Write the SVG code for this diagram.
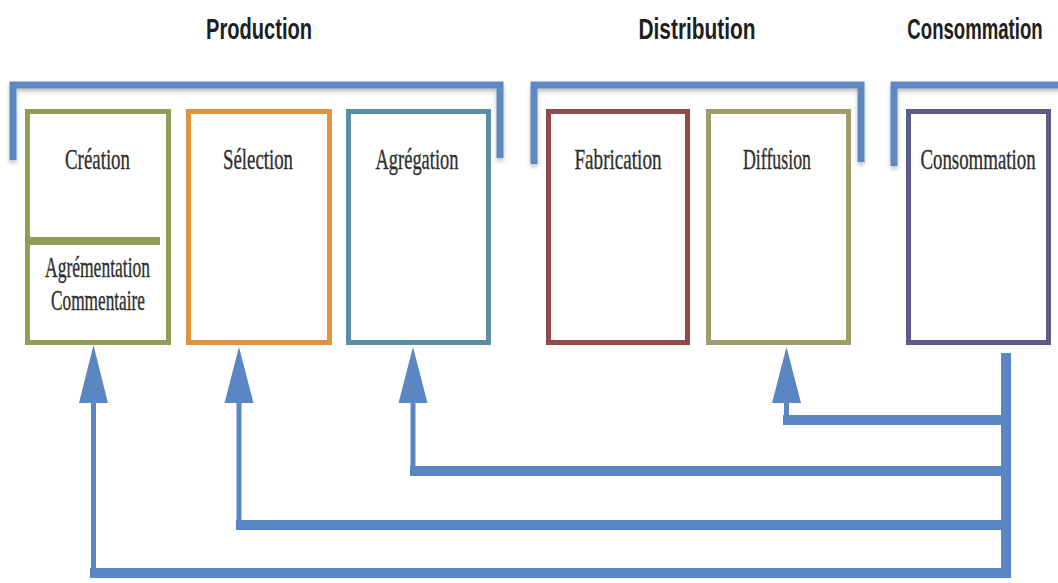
<svg xmlns="http://www.w3.org/2000/svg" width="1058" height="583" viewBox="0 0 1058 583">
  <defs>
    <style>
      .title { font-family: "Liberation Sans", Arial, sans-serif; font-weight: bold; font-size: 30px; fill: #1e1e1e; text-anchor: middle; }
      .label { font-family: "Liberation Serif", "DejaVu Serif", serif; font-size: 29px; fill: #2e2e2e; stroke: #2e2e2e; stroke-width: 0.35; text-anchor: middle; }
      .box { fill: #ffffff; stroke-width: 5; }
      .bracket { fill: none; stroke: #5f88c2; stroke-width: 7; stroke-linejoin: miter; }
      .shaft { fill: none; stroke: #5b86c4; stroke-width: 5; }
      .bar { fill: none; stroke: #5b86c4; stroke-width: 10; }
      .head { fill: #5b86c4; }
    </style>
    <filter id="sh" x="-5%" y="-5%" width="110%" height="130%">
      <feGaussianBlur in="SourceAlpha" stdDeviation="2"/>
      <feOffset dx="0" dy="3" result="b"/>
      <feComponentTransfer><feFuncA type="linear" slope="0.25"/></feComponentTransfer>
      <feMerge><feMergeNode/><feMergeNode in="SourceGraphic"/></feMerge>
    </filter>
  </defs>
  <rect width="1058" height="583" fill="#ffffff"/>

  <g id="titles">
    <text class="title" x="259" y="39" textLength="106" lengthAdjust="spacingAndGlyphs">Production</text>
    <text class="title" x="697" y="39" textLength="117" lengthAdjust="spacingAndGlyphs">Distribution</text>
    <text class="title" transform="translate(975,39) scale(0.62,1)" x="0" y="0">Consommation</text>
  </g>

  <g id="brackets" filter="url(#sh)">
    <path class="bracket" d="M13 160 V85 H500 V158"/>
    <path class="bracket" d="M534 164 V85 H861 V162"/>
    <path class="bracket" d="M894 166 V85 H1062"/>
  </g>

  <g id="node-creation">
    <rect class="box" x="27.5" y="111.5" width="141" height="231" stroke="#8f9d58"/>
    <line x1="26" y1="241" x2="160" y2="241" stroke="#8f9d58" stroke-width="8"/>
    <text class="label" x="97.5" y="169" textLength="65" lengthAdjust="spacingAndGlyphs">Création</text>
    <text class="label" x="97.5" y="277" font-size="26" textLength="105" lengthAdjust="spacingAndGlyphs">Agrémentation</text>
    <text class="label" x="98" y="310" font-size="26" textLength="94" lengthAdjust="spacingAndGlyphs">Commentaire</text>
  </g>
  <g id="node-selection">
    <rect class="box" x="188.5" y="111.5" width="141" height="231" stroke="#e0923c"/>
    <text class="label" x="258" y="169" textLength="70" lengthAdjust="spacingAndGlyphs">Sélection</text>
  </g>
  <g id="node-agregation">
    <rect class="box" x="348.5" y="111.5" width="140" height="231" stroke="#5a8ea6"/>
    <text class="label" x="417" y="169" textLength="83" lengthAdjust="spacingAndGlyphs">Agrégation</text>
  </g>
  <g id="node-fabrication">
    <rect class="box" x="548.5" y="111.5" width="139" height="231" stroke="#8f4b4b"/>
    <text class="label" x="618" y="169" textLength="87" lengthAdjust="spacingAndGlyphs">Fabrication</text>
  </g>
  <g id="node-diffusion">
    <rect class="box" x="708.5" y="111.5" width="140" height="231" stroke="#a19c6c"/>
    <text class="label" x="777" y="169" textLength="68" lengthAdjust="spacingAndGlyphs">Diffusion</text>
  </g>
  <g id="node-consommation">
    <rect class="box" x="908.5" y="111.5" width="140" height="231" stroke="#5f5b88"/>
    <text class="label" transform="translate(978,169) scale(0.65,1)" x="0" y="0">Consommation</text>
  </g>

  <g id="connectors">
    <path class="bar" d="M1006 353 V578"/>
    <path class="bar" d="M1006 420 H783"/>
    <path class="shaft" d="M786.5 425 V398"/>
    <polygon class="head" points="786.5,347 772,403 801,403"/>
    <path class="bar" d="M1006 471 H410"/>
    <path class="shaft" d="M413 476 V398"/>
    <polygon class="head" points="413,347 398.5,403 427.5,403"/>
    <path class="bar" d="M1006 525 H236"/>
    <path class="shaft" d="M239 530 V398"/>
    <polygon class="head" points="239,347 224.5,403 253.5,403"/>
    <path class="bar" d="M1006 573 H90"/>
    <path class="shaft" d="M93.5 578 V398"/>
    <polygon class="head" points="93.5,345 79,403 108,403"/>
  </g>
</svg>
